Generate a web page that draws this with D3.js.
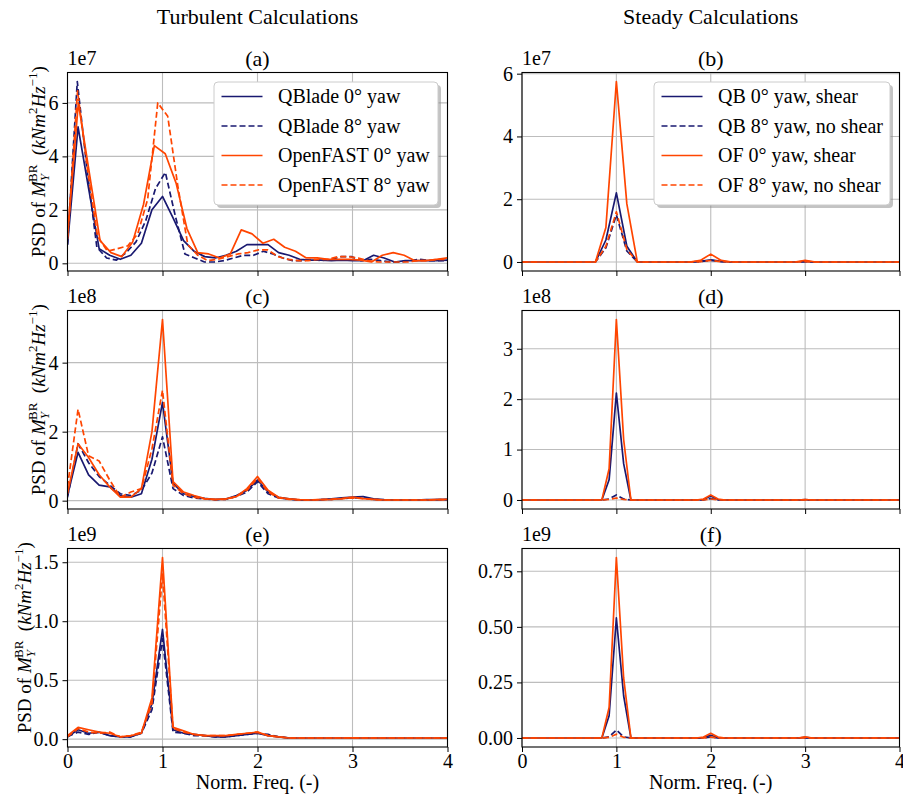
<!DOCTYPE html>
<html><head><meta charset="utf-8">
<script src="https://cdn.jsdelivr.net/npm/d3@7"></script>
<style>body{margin:0;background:#fff;} svg{font-family:"Liberation Serif","Times New Roman",serif;}</style>
</head><body><svg id="c" width="903" height="798"></svg>
<script>
// ---------- DATA ----------
const xTicks = [0, 1, 2, 3, 4];
const xTickLabels = ["0", "1", "2", "3", "4"];

// frequency grids (normalised frequency)
const freq9 = [0,0.111,0.222,0.333,0.444,0.556,0.667,0.778,0.889,1.0,1.111,1.222,1.333,1.444,1.556,1.667,1.778,1.889,2.0,2.111,2.222,2.333,2.444,2.556,2.667,2.778,2.889,3.0,3.111,3.222,3.333,3.444,3.556,3.667,3.778,3.889,4.0];
const freqA_QB8 = [0,0.103,0.206,0.309,0.412,0.515,0.618,0.721,0.824,0.927,1.03,1.133,1.236,1.339,1.442,1.545,1.648,1.751,1.854,1.957,2.06,2.163,2.266,2.369,2.472,2.575,2.678,2.781,2.884,2.987,3.09,3.193,3.296,3.399,3.502,3.605,3.708,3.811,3.914,4.017];
const freqA_OF0 = [0,0.114,0.229,0.343,0.457,0.571,0.686,0.8,0.914,1.029,1.143,1.257,1.371,1.486,1.6,1.714,1.829,1.943,2.057,2.171,2.286,2.4,2.514,2.629,2.743,2.857,2.971,3.086,3.2,3.314,3.429,3.543,3.657,3.771,3.886,4.0];
const freqA_OF8 = [0,0.106,0.211,0.317,0.422,0.528,0.633,0.739,0.844,0.95,1.055,1.161,1.266,1.372,1.477,1.583,1.688,1.794,1.899,2.005,2.11,2.216,2.321,2.427,2.532,2.638,2.743,2.849,2.954,3.06,3.165,3.271,3.376,3.482,3.587,3.693,3.798,3.904,4.009];
const freqB = [0,0.778,0.889,1.0,1.111,1.222,1.778,1.889,2.0,2.111,2.222,2.778,2.889,3.0,3.111,3.222,4.0];
const freqDF = [0,0.846,0.923,1.0,1.077,1.154,1.846,1.923,2.0,2.077,2.154,2.846,2.923,3.0,3.077,3.154,4.0];

// (a) turbulent, units 1e7
const psdA_QB0 = [0.7,5.1,2.8,0.55,0.3,0.15,0.3,0.75,2.0,2.5,1.7,0.85,0.45,0.25,0.2,0.3,0.45,0.7,0.7,0.7,0.4,0.3,0.15,0.12,0.12,0.1,0.12,0.1,0.1,0.3,0.2,0.05,0.1,0.1,0.1,0.1,0.12];
const psdA_QB8 = [0.7,6.8,3.5,0.6,0.2,0.12,0.4,0.8,1.6,2.8,3.4,1.8,0.35,0.2,0.05,0.05,0.1,0.2,0.3,0.3,0.45,0.35,0.2,0.1,0.1,0.15,0.1,0.15,0.25,0.25,0.1,0.15,0.1,0.05,0.05,0.1,0.15,0.1,0.1,0.1];
const psdA_OF0 = [1.0,6.0,3.4,0.85,0.4,0.25,0.8,2.2,4.4,4.1,3.0,1.3,0.4,0.35,0.2,0.35,1.25,1.1,0.75,0.9,0.6,0.45,0.2,0.2,0.15,0.15,0.15,0.12,0.05,0.3,0.4,0.3,0.1,0.1,0.15,0.2];
const psdA_OF8 = [0.9,6.45,3.5,1.0,0.45,0.55,0.65,1.1,2.4,6.0,5.5,2.9,0.7,0.3,0.1,0.15,0.25,0.35,0.4,0.5,0.5,0.25,0.15,0.1,0.1,0.15,0.15,0.25,0.25,0.2,0.1,0.05,0.05,0.05,0.05,0.1,0.1,0.15,0.15];
// (c) turbulent, units 1e8
const psdC_QB0 = [0.15,1.4,0.75,0.45,0.4,0.15,0.1,0.2,1.2,2.85,0.5,0.2,0.12,0.07,0.03,0.05,0.15,0.3,0.6,0.25,0.1,0.05,0.02,0.02,0.03,0.05,0.08,0.1,0.12,0.05,0.03,0.02,0.02,0.02,0.03,0.03,0.04];
const psdC_QB8 = [0.1,1.65,1.1,0.7,0.45,0.2,0.15,0.3,0.8,1.85,0.35,0.15,0.08,0.05,0.03,0.04,0.12,0.25,0.55,0.2,0.08,0.04,0.02,0.02,0.03,0.04,0.06,0.08,0.08,0.04,0.02,0.02,0.02,0.02,0.02,0.03,0.03];
const psdC_OF0 = [0.2,1.65,1.25,0.75,0.4,0.1,0.1,0.35,2.0,5.25,0.55,0.25,0.15,0.06,0.04,0.05,0.12,0.35,0.7,0.3,0.1,0.05,0.03,0.02,0.03,0.04,0.06,0.1,0.06,0.04,0.02,0.02,0.02,0.02,0.02,0.03,0.04];
const psdC_OF8 = [0.4,2.65,1.3,1.15,0.6,0.1,0.25,0.35,1.5,3.2,0.45,0.2,0.1,0.05,0.03,0.04,0.12,0.3,0.65,0.25,0.08,0.04,0.02,0.02,0.03,0.04,0.06,0.08,0.06,0.03,0.02,0.02,0.02,0.02,0.02,0.03,0.03];
// (e) turbulent, units 1e9
const psdE_QB0 = [0.02,0.08,0.05,0.06,0.03,0.02,0.02,0.05,0.3,0.93,0.08,0.05,0.04,0.03,0.02,0.02,0.03,0.04,0.05,0.03,0.02,0.01,0.01,0.01,0.01,0.01,0.01,0.012,0.01,0.01,0.01,0.01,0.01,0.01,0.01,0.01,0.01];
const psdE_QB8 = [0.02,0.06,0.04,0.06,0.03,0.02,0.02,0.05,0.25,0.85,0.06,0.05,0.03,0.03,0.02,0.02,0.03,0.04,0.05,0.04,0.02,0.01,0.01,0.01,0.01,0.01,0.01,0.01,0.01,0.01,0.01,0.01,0.01,0.01,0.01,0.01,0.01];
const psdE_OF0 = [0.03,0.1,0.08,0.06,0.05,0.02,0.03,0.05,0.35,1.54,0.1,0.07,0.04,0.03,0.03,0.03,0.04,0.05,0.06,0.03,0.02,0.01,0.01,0.01,0.01,0.01,0.01,0.012,0.01,0.01,0.01,0.01,0.01,0.01,0.01,0.01,0.01];
const psdE_OF8 = [0.02,0.09,0.06,0.05,0.06,0.02,0.03,0.06,0.3,1.4,0.09,0.06,0.04,0.03,0.03,0.03,0.04,0.05,0.06,0.03,0.02,0.01,0.01,0.01,0.01,0.01,0.01,0.01,0.01,0.01,0.01,0.01,0.01,0.01,0.01,0.01,0.01];
// (b) steady, units 1e7
const psdB_QB0 = [0,0,0.7,2.2,0.5,0,0,0.02,0.07,0.02,0,0,0,0.02,0,0,0];
const psdB_QB8 = [0,0,0.45,1.5,0.35,0,0,0.01,0.05,0.01,0,0,0,0.01,0,0,0];
const psdB_OF0 = [0,0,1.1,5.75,1.85,0,0,0.05,0.25,0.05,0,0,0,0.05,0,0,0];
const psdB_OF8 = [0,0,0.5,1.6,0.4,0,0,0.01,0.05,0.01,0,0,0,0.01,0,0,0];
// (d) steady, units 1e8
const psdD_QB0 = [0,0,0.4,2.12,0.72,0,0,0.01,0.08,0.01,0,0,0,0.01,0,0,0];
const psdD_QB8 = [0,0,0.02,0.1,0.02,0,0,0,0.03,0,0,0,0,0,0,0,0];
const psdD_OF0 = [0,0,0.62,3.58,1.2,0,0,0.02,0.1,0.02,0,0,0,0.01,0,0,0];
const psdD_OF8 = [0,0,0.01,0.04,0.01,0,0,0,0.02,0,0,0,0,0,0,0,0];
// (f) steady, units 1e9
const psdF_QB0 = [0,0,0.1,0.54,0.19,0,0,0.002,0.012,0.002,0,0,0,0.003,0,0,0];
const psdF_QB8 = [0,0,0.005,0.036,0.005,0,0,0,0.005,0,0,0,0,0,0,0,0];
const psdF_OF0 = [0,0,0.137,0.812,0.27,0,0,0.004,0.021,0.004,0,0,0,0.005,0,0,0];
const psdF_OF8 = [0,0,0.003,0.017,0.003,0,0,0,0.004,0,0,0,0,0,0,0,0];

const yTicksA = [0,2,4,6], yLabelsA = ["0","2","4","6"];
const yTicksB = [0,2,4,6], yLabelsB = ["0","2","4","6"];
const yTicksC = [0,2,4], yLabelsC = ["0","2","4"];
const yTicksD = [0,1,2,3], yLabelsD = ["0","1","2","3"];
const yTicksE = [0,0.5,1.0,1.5], yLabelsE = ["0.0","0.5","1.0","1.5"];
const yTicksF = [0,0.25,0.5,0.75], yLabelsF = ["0.00","0.25","0.50","0.75"];

const legendTurb = ["QBlade 0° yaw","QBlade 8° yaw","OpenFAST 0° yaw","OpenFAST 8° yaw"];
const legendSteady = ["QB 0° yaw, shear","QB 8° yaw, no shear","OF 0° yaw, shear","OF 8° yaw, no shear"];
const columnTitles = ["Turbulent Calculations","Steady Calculations"];

// ---------- STYLE ----------
const NAVY = "#191970", ORANGE = "#ff4500";
const styles = [
  {color: NAVY, dash: null},
  {color: NAVY, dash: "6,3"},
  {color: ORANGE, dash: null},
  {color: ORANGE, dash: "6,3"}
];
const FS = 20;

const panels = [
  {col:0,row:0,tag:"(a)",exp:"1e7",yt:yTicksA,yl:yLabelsA,legend:legendTurb,
   series:[[freq9,psdA_QB0],[freqA_QB8,psdA_QB8],[freqA_OF0,psdA_OF0],[freqA_OF8,psdA_OF8]]},
  {col:1,row:0,tag:"(b)",exp:"1e7",yt:yTicksB,yl:yLabelsB,legend:legendSteady,
   series:[[freqB,psdB_QB0],[freqB,psdB_QB8],[freqB,psdB_OF0],[freqB,psdB_OF8]]},
  {col:0,row:1,tag:"(c)",exp:"1e8",yt:yTicksC,yl:yLabelsC,
   series:[[freq9,psdC_QB0],[freq9,psdC_QB8],[freq9,psdC_OF0],[freq9,psdC_OF8]]},
  {col:1,row:1,tag:"(d)",exp:"1e8",yt:yTicksD,yl:yLabelsD,
   series:[[freqDF,psdD_QB0],[freqDF,psdD_QB8],[freqDF,psdD_OF0],[freqDF,psdD_OF8]]},
  {col:0,row:2,tag:"(e)",exp:"1e9",yt:yTicksE,yl:yLabelsE,
   series:[[freq9,psdE_QB0],[freq9,psdE_QB8],[freq9,psdE_OF0],[freq9,psdE_OF8]]},
  {col:1,row:2,tag:"(f)",exp:"1e9",yt:yTicksF,yl:yLabelsF,
   series:[[freqDF,psdF_QB0],[freqDF,psdF_QB8],[freqDF,psdF_OF0],[freqDF,psdF_OF8]]}
];

const colX = [67.5, 522], colW = [380, 377.5];
const rowY = [72.5, 310.5, 548.5], rowH = 198.5;
const yLabelX = [45, 45, 31];

const svg = d3.select("#c");

// column titles
columnTitles.forEach((t,i)=>{
  svg.append("text").attr("x", colX[i]+colW[i]/2).attr("y", 24)
    .attr("text-anchor","middle").attr("font-size",22).text(t);
});

panels.forEach((p,pi)=>{
  const w = colW[p.col], h = rowH;
  const g = svg.append("g").attr("transform",`translate(${colX[p.col]},${rowY[p.row]})`);
  const x = d3.scaleLinear().domain([0,4]).range([0,w]);
  const allY = p.series.flatMap(s=>s[1]);
  const lo = d3.min(allY), hi = d3.max(allY), pad = (hi-lo)*0.05;
  const y = d3.scaleLinear().domain([lo-pad, hi+pad]).range([h,0]);

  // grid
  g.append("g").selectAll("line").data(xTicks).join("line")
    .attr("x1",d=>x(d)).attr("x2",d=>x(d)).attr("y1",0).attr("y2",h)
    .attr("stroke","#bdbdbd").attr("stroke-width",1.1);
  g.append("g").selectAll("line").data(p.yt).join("line")
    .attr("x1",0).attr("x2",w).attr("y1",d=>y(d)).attr("y2",d=>y(d))
    .attr("stroke","#bdbdbd").attr("stroke-width",1.1);

  // clip
  const cid = "clip"+pi;
  g.append("clipPath").attr("id",cid).append("rect").attr("width",w).attr("height",h);

  const line = d3.line().x(d=>x(d[0])).y(d=>y(d[1]));
  const lg = g.append("g").attr("clip-path",`url(#${cid})`);
  p.series.forEach((s,si)=>{
    const pts = s[0].map((f,i)=>[f, s[1][i]]);
    lg.append("path").datum(pts).attr("d",line).attr("fill","none")
      .attr("stroke",styles[si].color).attr("stroke-width",1.7)
      .attr("stroke-dasharray",styles[si].dash).attr("stroke-linejoin","round");
  });

  // axes
  const ya = g.append("g").call(d3.axisLeft(y).tickValues(p.yt).tickFormat((d,i)=>p.yl[i]).tickSize(5).tickPadding(4));
  const xa = g.append("g").attr("transform",`translate(0,${h})`)
    .call(d3.axisBottom(x).tickValues(xTicks).tickFormat((d,i)=> p.row===2 ? xTickLabels[i] : "").tickSize(5).tickPadding(2));
  [ya,xa].forEach(a=>{
    a.attr("font-family",null).attr("font-size",FS);
    a.select(".domain").remove();
    a.selectAll(".tick line").attr("stroke","#000").attr("stroke-width",1);
    a.selectAll(".tick text").attr("fill","#000");
  });

  // frame
  g.append("rect").attr("width",w).attr("height",h).attr("fill","none").attr("stroke","#000").attr("stroke-width",1.1);

  // offset text and panel tag
  g.append("text").attr("x",0).attr("y",-7.5).attr("font-size",FS).text(p.exp);
  g.append("text").attr("x",w/2).attr("y",-6.5).attr("text-anchor","middle").attr("font-size",22).text(p.tag);

  // x label
  if (p.row===2) {
    g.append("text").attr("x",w/2).attr("y",h+42).attr("text-anchor","middle").attr("font-size",FS).text("Norm. Freq. (-)");
  }

  // legend
  if (p.legend) {
    const lw = p.col===0 ? 224 : 236, lh = 123;
    const lgG = g.append("g").attr("transform",`translate(${w-9.5-lw},9.5)`);
    lgG.append("rect").attr("x",3).attr("y",3).attr("width",lw).attr("height",lh).attr("rx",4)
      .attr("fill","#888").attr("opacity",0.5);
    lgG.append("rect").attr("width",lw).attr("height",lh).attr("rx",4)
      .attr("fill","#fff").attr("stroke","#cccccc").attr("stroke-width",1);
    p.legend.forEach((t,i)=>{
      const cy = 14.5 + i*29.5;
      lgG.append("line").attr("x1",7.5).attr("x2",48.5).attr("y1",cy).attr("y2",cy)
        .attr("stroke",styles[i].color).attr("stroke-width",1.7).attr("stroke-dasharray",styles[i].dash);
      lgG.append("text").attr("x",64).attr("y",cy+6.5).attr("font-size",FS).text(t);
    });
  }

  // y label (left column only)
  if (p.col===0) {
    const t = svg.append("text").attr("transform",`translate(${yLabelX[p.row]},${rowY[p.row]+h/2-10}) rotate(-90)`)
      .attr("text-anchor","middle").attr("font-size",19);
    t.append("tspan").text("PSD of ");
    t.append("tspan").attr("font-style","italic").text("M");
    t.append("tspan").attr("font-style","italic").attr("font-size",13).attr("dy",4).text("Y");
    t.append("tspan").attr("font-size",13).attr("dx",-8).attr("dy",-12).text("BR");
    t.append("tspan").attr("dy",8).text("\u2002(");
    t.append("tspan").attr("font-style","italic").text("kNm");
    t.append("tspan").attr("font-size",13).attr("dy",-8).text("2");
    t.append("tspan").attr("font-style","italic").attr("dy",8).text("Hz");
    t.append("tspan").attr("font-size",13).attr("dy",-8).text("\u22121");
    t.append("tspan").attr("dy",8).text(")");
  }
});
</script></body></html>
